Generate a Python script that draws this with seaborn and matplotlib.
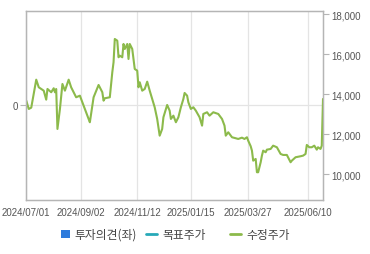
import matplotlib
matplotlib.use("Agg")
import matplotlib.pyplot as plt
import seaborn as sns
import pandas as pd
from matplotlib.lines import Line2D
from matplotlib.patches import Patch

# trading-day index and adjusted price
day_idx = [0, 2, 4, 8, 10, 14, 16, 17, 20, 22, 23, 24, 25, 27, 29, 31, 34, 36, 40, 43,
           46, 50, 51, 54, 58, 61, 62, 63, 67, 69, 70, 71, 73, 74, 75, 77, 78, 79, 81, 82,
           83, 85, 87, 89, 90, 91, 93, 95, 97, 99, 101, 103, 105, 107, 109, 110, 113, 115, 116, 118,
           120, 122, 124, 126, 127, 129, 130, 132, 134, 136, 139, 141, 142, 145, 147, 150, 154, 157, 159, 160,
           162, 165, 168, 170, 173, 175, 177, 178, 180, 181, 182, 184, 185, 186, 188, 189, 190, 192, 193, 196,
           198, 201, 204, 206, 209, 212, 213, 216, 220, 222, 224, 225, 227, 229, 231, 233, 234, 236, 237, 238]
price = [13680, 13265, 13330, 14730, 14350, 14180, 13730, 14265, 14100, 14300, 14100, 14265, 12265, 13265, 14515, 14180, 14730, 14350, 13850, 13930,
         13430, 12765, 12600, 13850, 14465, 14100, 13680, 13800, 13850, 15100, 15600, 16765, 16680, 15850, 15930, 15850, 16515, 16265, 16515, 15765,
         16515, 16265, 15265, 15180, 14350, 14600, 14180, 14265, 14630, 14180, 13765, 13350, 12765, 11930, 12265, 12850, 13465, 13180, 12765, 12930,
         12600, 12850, 13350, 13765, 14065, 13930, 13600, 13265, 13350, 13180, 12850, 12430, 13015, 13100, 12930, 13100, 13015, 12765, 12430, 11930,
         12100, 11850, 11800, 11765, 11830, 11765, 11850, 11680, 11400, 11180, 10680, 10765, 10100, 10100, 10600, 10930, 11180, 11100, 11230, 11265,
         11430, 11350, 11015, 10965, 10965, 10600, 10680, 10850, 10900, 10930, 11015, 11465, 11350, 11350, 11430, 11230, 11350, 11265, 11430, 13765]

tick_idx = [0, 44, 89, 132, 178, 226]
tick_labels = ["2024/07/01", "2024/09/02", "2024/11/12", "2025/01/15", "2025/03/27", "2025/06/10"]
right_ticks = [10000, 12000, 14000, 16000, 18000]
legend_labels = ["투자의견(좌)", "목표주가", "수정주가"]

df = pd.DataFrame({"idx": day_idx, "price": price})

sns.set_style("white")
plt.rcParams["font.family"] = ["Liberation Sans", "DejaVu Sans"]

fig = plt.figure(figsize=(3.7, 2.55), dpi=100)
ax = fig.add_axes([0.071, 0.212, 0.802, 0.741])
ax2 = ax.twinx()

grid_c = "#e4e4e4"
for t in tick_idx:
    ax.axvline(t, color=grid_c, lw=0.9, zorder=0)
ax.axhline(0, color=grid_c, lw=0.9, zorder=0)

green = "#8cba4b"
sns.lineplot(data=df, x="idx", y="price", ax=ax2, color=green, lw=1.5)

ax.set_xlim(0, 238)
ax.set_ylim(-1, 1)
ax2.set_ylim(8715, 18165)

ax.set_xticks(tick_idx)
ax.set_xticklabels(tick_labels)
ax.set_yticks([0])
ax.set_yticklabels(["0"])
ax2.set_yticks(right_ticks)
ax2.set_yticklabels([f"{v:,}" for v in right_ticks])
ax2.set_xlabel("")
ax2.set_ylabel("")
ax.set_xlabel("")
ax.set_ylabel("")
ax.grid(False)
ax2.grid(False)

for a in (ax, ax2):
    for s in a.spines.values():
        s.set_color("#b5b5b5")
        s.set_linewidth(0.9)
    a.tick_params(axis="both", colors="#b5b5b5", labelcolor="#555555", labelsize=7,
                  length=4, width=0.8, pad=2)
ax.tick_params(axis="x", length=0, pad=5)
ax2.tick_params(axis="x", length=0)

kfont = {"family": ["Noto Sans CJK KR", "DejaVu Sans"], "size": 8.5}
handles = [Patch(facecolor="#2e7bdc", edgecolor="none"),
           Line2D([0], [0], color="#27a9b8", lw=2),
           Line2D([0], [0], color=green, lw=2)]
anchors = [0.165, 0.395, 0.622]
hl = [0.72, 0.95, 0.95]
for h, lab, x0, l in zip(handles, legend_labels, anchors, hl):
    fig.legend([h], [lab], loc="center left", bbox_to_anchor=(x0, 0.077),
               frameon=False, prop=kfont, handlelength=l, handleheight=0.72,
               handletextpad=0.45, borderpad=0, borderaxespad=0, labelcolor="#444444")

fig.savefig("out.png", dpi=100)
